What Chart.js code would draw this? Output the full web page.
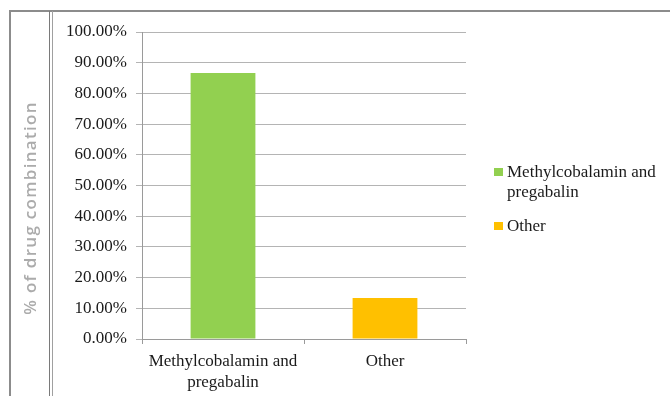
<!DOCTYPE html>
<html>
<head>
<meta charset="utf-8">
<script src="https://cdn.jsdelivr.net/npm/chart.js@4.4.0/dist/chart.umd.min.js"></script>
<style>
    html, body { margin: 0; padding: 0; background: #fff; }
    #wrap { position: relative; width: 670px; height: 396px; }
    #legend {
        position: absolute; left: 494px; top: 162px; width: 176px;
        font: 17px "Liberation Serif", "Times New Roman", serif; color: #1a1a1a;
    }
    #legend .item { position: relative; padding-left: 13px; line-height: 20px; margin-bottom: 14px; }
    #legend .box { position: absolute; left: 0; top: 6px; width: 9px; height: 8px; }
</style>
</head>
<body>
<div id="wrap">
    <canvas id="drugChart" width="670" height="396"></canvas>
    <div id="legend"></div>
</div>
<script>
const categories = [["Methylcobalamin and", "pregabalin"], ["Other"]];
const shares = [86.67, 13.33];
const barColors = ["#92d050", "#ffc000"];
const yTitle = "% of drug combination";

document.addEventListener("DOMContentLoaded", function () {
    const serif = "'Liberation Serif', 'Times New Roman', serif";

    // frame lines + rotated axis title in the left strip
    const framePlugin = {
        id: "frame",
        afterDraw(chart) {
            const ctx = chart.ctx;
            ctx.save();
            ctx.strokeStyle = "#8c8c8c";
            ctx.lineWidth = 2;
            ctx.beginPath();
            ctx.moveTo(10, 11); ctx.lineTo(10, 396);
            ctx.moveTo(9, 11); ctx.lineTo(670, 11);
            ctx.stroke();
            ctx.lineWidth = 1;
            ctx.strokeStyle = "#7a7a7a";
            ctx.beginPath();
            ctx.moveTo(49.5, 11); ctx.lineTo(49.5, 396);
            ctx.stroke();
            ctx.strokeStyle = "#a0a0a0";
            ctx.beginPath();
            ctx.moveTo(52.5, 11); ctx.lineTo(52.5, 396);
            ctx.stroke();

            ctx.translate(31, 208);
            ctx.rotate(-Math.PI / 2);
            ctx.font = "600 17px 'Open Sans', sans-serif";
            ctx.letterSpacing = "1.3px";
            ctx.fillStyle = "#ababab";
            ctx.textAlign = "center";
            ctx.textBaseline = "middle";
            ctx.fillText(yTitle, 0, 0);
            ctx.restore();
        }
    };

    new Chart(document.getElementById("drugChart").getContext("2d"), {
        type: "bar",
        data: {
            labels: categories,
            datasets: [{
                label: "% of drug combination",
                data: shares,
                backgroundColor: barColors,
                borderWidth: 0,
                categoryPercentage: 1,
                barPercentage: 0.4
            }]
        },
        options: {
            responsive: false,
            animation: false,
            layout: { padding: { top: 32, right: 204, bottom: 0, left: 0 } },
            plugins: { legend: { display: false }, tooltip: { enabled: false } },
            scales: {
                x: {
                    afterFit(s) { s.height = 57; },
                    grid: { drawOnChartArea: false, offset: true, tickLength: 5, color: "#9a9a9a" },
                    border: { color: "#9a9a9a" },
                    ticks: { font: { family: serif, size: 17, lineHeight: 1.25 }, color: "#1a1a1a", padding: 7, maxRotation: 0 }
                },
                y: {
                    min: 0,
                    max: 100,
                    afterFit(s) { s.width = 142; },
                    grid: { color: "#b4b4b4", tickLength: 6 },
                    border: { color: "#9a9a9a" },
                    ticks: {
                        stepSize: 10,
                        padding: 9,
                        font: { family: serif, size: 17 },
                        color: "#1a1a1a",
                        callback: v => v.toFixed(2) + "%"
                    }
                }
            }
        },
        plugins: [framePlugin]
    });

    // legend as html, wraps like the original
    const legend = document.getElementById("legend");
    categories.forEach((c, i) => {
        const item = document.createElement("div");
        item.className = "item";
        item.innerHTML = '<span class="box" style="background:' + barColors[i] + '"></span>' + c.join(" ");
        legend.appendChild(item);
    });
});
</script>
</body>
</html>
